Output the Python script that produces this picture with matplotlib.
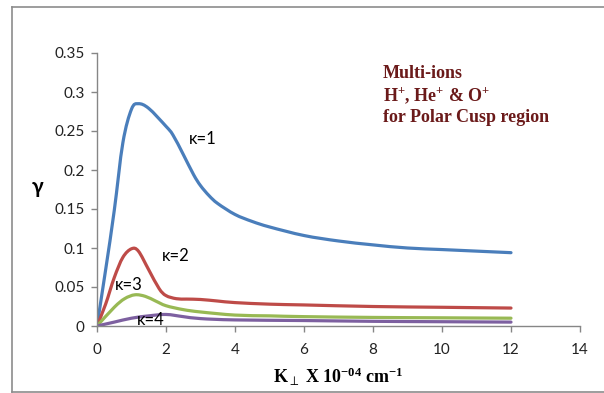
import matplotlib
matplotlib.use("Agg")
import matplotlib.pyplot as plt
from matplotlib.path import Path
from matplotlib.patches import PathPatch
from matplotlib.lines import Line2D
from matplotlib.ticker import FuncFormatter
import numpy as np

# Growth rate gamma vs perpendicular wavenumber for kappa = 1..4
k1_x = [0, 0.25, 0.5, 0.75, 1.0, 1.2, 1.5, 2.0, 2.2, 2.5, 2.8, 3.0, 3.25, 3.5, 4, 4.5, 5, 6, 7, 8, 9, 10, 11, 12]
k1_y = [0, 0.072, 0.148, 0.235, 0.278, 0.285, 0.279, 0.256, 0.245, 0.220, 0.194, 0.180, 0.167, 0.157, 0.143, 0.134, 0.127, 0.116, 0.109, 0.104, 0.100, 0.098, 0.096, 0.094]

k2_x = [0, 0.25, 0.5, 0.75, 1.0, 1.2, 1.5, 1.8, 2.0, 2.3, 2.6, 3.0, 3.5, 4, 5, 6, 8, 10, 12]
k2_y = [0, 0.028, 0.062, 0.088, 0.099, 0.096, 0.072, 0.048, 0.039, 0.035, 0.0345, 0.034, 0.032, 0.030, 0.028, 0.027, 0.025, 0.024, 0.023]

k3_x = [0, 0.5, 0.8, 1.1, 1.4, 1.7, 2.0, 2.5, 3, 4, 5, 6, 8, 10, 12]
k3_y = [0, 0.024, 0.035, 0.040, 0.038, 0.032, 0.026, 0.021, 0.018, 0.014, 0.013, 0.012, 0.011, 0.0105, 0.010]

k4_x = [0, 0.5, 1.0, 1.5, 2.0, 2.5, 3, 4, 6, 8, 10, 12]
k4_y = [0, 0.005, 0.010, 0.013, 0.0148, 0.012, 0.0095, 0.0078, 0.007, 0.006, 0.0055, 0.005]

series = [
    (k1_x, k1_y, "#4A7EBB", "κ=1", (2.66, 0.240)),
    (k2_x, k2_y, "#BE4B48", "κ=2", (1.88, 0.090)),
    (k3_x, k3_y, "#98B954", "κ=3", (0.53, 0.053)),
    (k4_x, k4_y, "#7D60A0", "κ=4", (1.16, 0.008)),
]

x_ticks = [0, 2, 4, 6, 8, 10, 12, 14]
y_ticks = [0, 0.05, 0.1, 0.15, 0.2, 0.25, 0.3, 0.35]

plt.rcParams["mathtext.fontset"] = "custom"
plt.rcParams["mathtext.rm"] = "Liberation Serif:bold"
plt.rcParams["mathtext.bf"] = "Liberation Serif:bold"
plt.rcParams["mathtext.it"] = "Liberation Serif:bold"


def smooth_path(xs, ys):
    """Cubic Bezier path through the points (Catmull-Rom style smoothing)."""
    p = np.column_stack([xs, ys]).astype(float)
    n = len(p)
    verts = [p[0]]
    codes = [Path.MOVETO]
    for i in range(n - 1):
        p0 = p[i - 1] if i > 0 else p[i]
        p1 = p[i]
        p2 = p[i + 1]
        p3 = p[i + 2] if i + 2 < n else p[i + 1]
        c1 = p1 + (p2 - p0) / 6.0
        c2 = p2 - (p3 - p1) / 6.0
        verts += [c1, c2, p2]
        codes += [Path.CURVE4] * 3
    return Path(verts, codes)


fig = plt.figure(figsize=(6.04, 3.93), dpi=100)
ax = fig.add_axes([97 / 604, 1 - 326 / 393, (580 - 97) / 604, (326 - 53) / 393])

for xs, ys, color, label, (lx, ly) in series:
    patch = PathPatch(smooth_path(xs, ys), facecolor="none", edgecolor=color,
                      lw=2.3, capstyle="round", joinstyle="round")
    ax.add_patch(patch)
    ax.text(lx, ly, label, fontsize=12, family="Lato", color="black",
            ha="left", va="center")

ax.set_xlim(0, 14)
ax.set_ylim(0, 0.35)
ax.set_xticks(x_ticks)
ax.set_yticks(y_ticks)
ax.yaxis.set_major_formatter(FuncFormatter(lambda v, _: f"{v:g}"))

for side in ("top", "right"):
    ax.spines[side].set_visible(False)
for side in ("left", "bottom"):
    ax.spines[side].set_color("#868686")
    ax.spines[side].set_linewidth(1.0)
ax.tick_params(axis="both", direction="out", length=4, width=1.0, color="#868686",
               labelsize=11, labelcolor="#222222")
ax.tick_params(axis="x", pad=8)
ax.tick_params(axis="y", pad=5)
for lbl in ax.get_xticklabels() + ax.get_yticklabels():
    lbl.set_family("Lato")

ax.set_xlabel(r"K$_{\perp}$ X 10$^{-04}$ cm$^{-1}$", fontsize=13,
              family="Liberation Serif", fontweight="bold", labelpad=7)
fig.text(38 / 604, 1 - 187 / 393, "γ", fontsize=15, fontweight="bold",
         family="Lato", ha="center", va="center")

note_color = "#6B1A1A"
note_lines = ["Multi-ions", r"H$^{+}$, He$^{+}$ & O$^{+}$", "for Polar Cusp region"]
for i, line in enumerate(note_lines):
    fig.text(383 / 604, 1 - (73 + 22.5 * i) / 393, line, fontsize=13,
             family="Liberation Serif", fontweight="bold", color=note_color,
             ha="left", va="center")

# outer frame (left, top, bottom)
frame_kw = dict(color="#8c8c8c", lw=1.2, transform=fig.transFigure)
fig.add_artist(Line2D([12 / 604, 12 / 604], [1 - 392 / 393, 1 - 7 / 393], **frame_kw))
fig.add_artist(Line2D([12 / 604, 1.0], [1 - 7 / 393, 1 - 7 / 393], **frame_kw))
fig.add_artist(Line2D([12 / 604, 1.0], [1 - 392 / 393, 1 - 392 / 393], **frame_kw))

fig.savefig("out.png", dpi=100)
